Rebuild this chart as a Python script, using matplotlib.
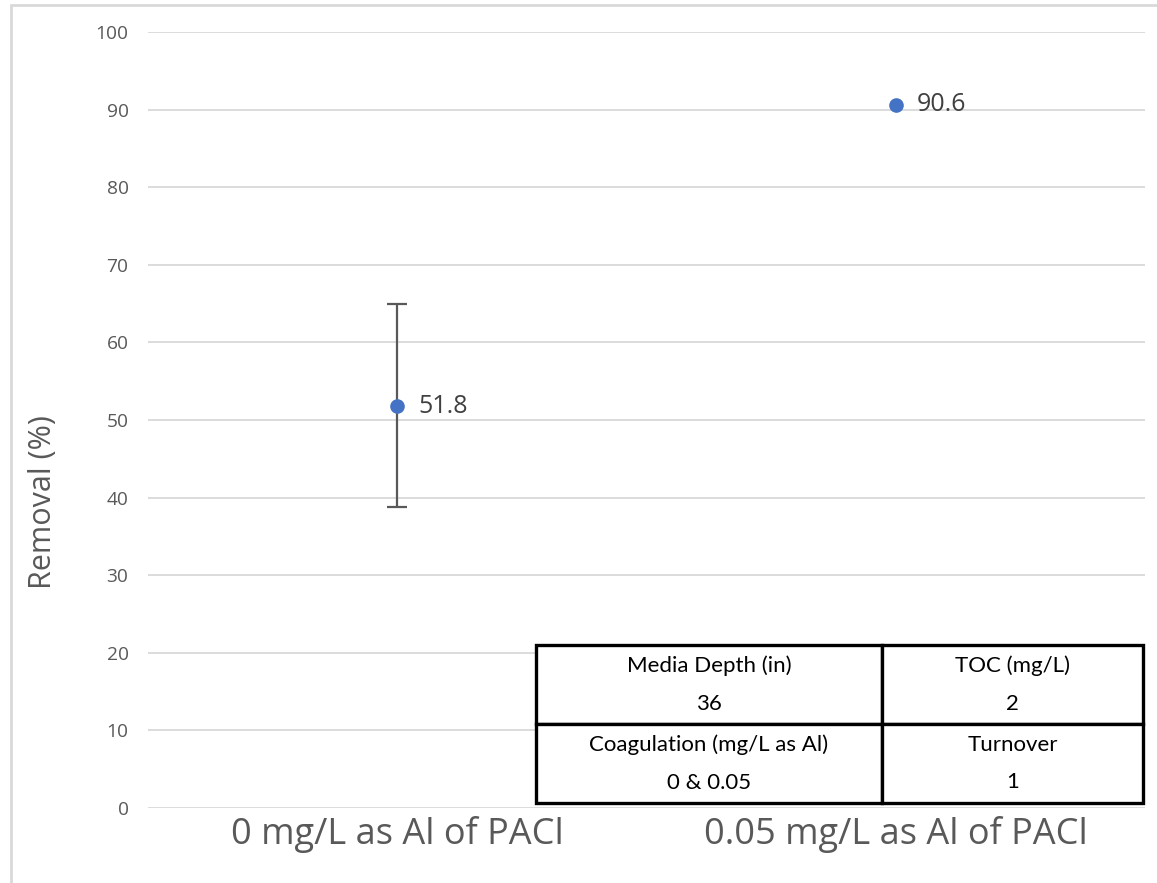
import matplotlib.pyplot as plt
from matplotlib.patches import Rectangle

categories = ['0 mg/L as Al of PACl', '0.05 mg/L as Al of PACl']
removal = [51.8, 90.6]
err_low = [13.0, 0.0]
err_high = [13.1, 0.0]
labels = ['51.8', '90.6']

table_text = [['Media Depth (in)\n36', 'TOC (mg/L)\n2'],
              ['Coagulation (mg/L as Al)\n0 & 0.05', 'Turnover\n1']]

plt.rcParams['font.family'] = ['Open Sans', 'DejaVu Sans']

W, H = 1157, 883
fig = plt.figure(figsize=(W / 100, H / 100), dpi=100)
ax = fig.add_axes([148 / W, 1 - 808 / H, 997 / W, 776 / H])

# chart border (cropped at right/bottom)
fig.patches.append(Rectangle((11 / W, -0.1), 1.2, 1 - 5 / H + 0.1, transform=fig.transFigure,
                             fill=False, edgecolor='#d9d9d9', linewidth=2))

x = list(range(len(categories)))
for xi, yi, lo, hi in zip(x, removal, err_low, err_high):
    if lo > 0 or hi > 0:
        ax.errorbar([xi], [yi], yerr=[[lo], [hi]], fmt='none', ecolor='#595959',
                    elinewidth=1.6, capsize=7, capthick=1.6, zorder=3)
ax.plot(x, removal, 'o', color='#4472C4', markersize=9.5, linestyle='none', zorder=4)
for xi, yi, lab in zip(x, removal, labels):
    ax.annotate(lab, (xi, yi), xytext=(15, 0), textcoords='offset points',
                va='center', ha='left', fontsize=18, color='#404040')

ax.set_xlim(-0.5, 1.5)
ax.set_ylim(0, 100)
ax.set_yticks(range(0, 101, 10))
ax.set_xticks(x)
ax.set_xticklabels(categories, fontsize=26, color='#595959')
ax.tick_params(axis='y', labelsize=13.8, labelcolor='#595959', length=0, pad=14)
ax.tick_params(axis='x', length=0, pad=6)
ax.set_ylabel('Removal (%)', fontsize=22, color='#595959')
ax.yaxis.set_label_coords((58 - 148) / 997, (808 - 502) / 776)
ax.yaxis.grid(True, color='#d9d9d9', linewidth=1.3)
ax.set_axisbelow(True)
for s in ax.spines.values():
    s.set_visible(False)

tab = ax.table(cellText=table_text, cellLoc='center', colWidths=[0.57, 0.43],
               bbox=[(536 - 148) / 997, (808 - 803) / 776, (1143 - 536) / 997, (803 - 645) / 776])
tab.auto_set_font_size(False)
for (r, c), cell in tab.get_celld().items():
    cell.set_edgecolor('black')
    cell.set_linewidth(2.4)
    cell.set_facecolor('white')
    cell.get_text().set_fontsize(16)
    cell.get_text().set_family(['Lato', 'DejaVu Sans'])
    cell.get_text().set_linespacing(2.1)
tab.set_zorder(5)

fig.savefig('out.png', dpi=100)
